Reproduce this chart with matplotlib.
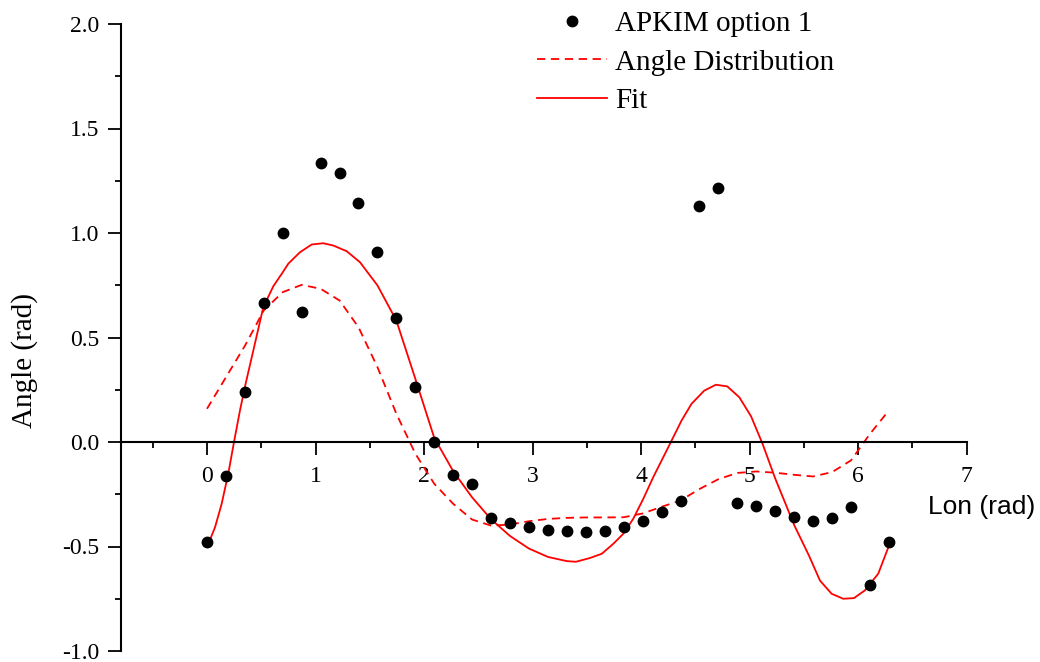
import matplotlib
matplotlib.use("Agg")
import matplotlib.pyplot as plt
from matplotlib.ticker import MultipleLocator, FormatStrFormatter
from matplotlib.lines import Line2D

plt.rcParams['axes.unicode_minus'] = False
plt.rcParams['font.family'] = ['Liberation Serif', 'DejaVu Serif']

# Longitude samples (rad)
lon = [0.000, 0.175, 0.349, 0.524, 0.698, 0.873, 1.047, 1.222, 1.396, 1.571,
       1.745, 1.920, 2.094, 2.269, 2.443, 2.618, 2.793, 2.967, 3.142, 3.316,
       3.491, 3.665, 3.840, 4.014, 4.189, 4.363, 4.538, 4.712, 4.887, 5.061,
       5.236, 5.411, 5.585, 5.760, 5.934, 6.109, 6.283]

# APKIM option 1 (points)
apkim = [-0.479, -0.165, 0.241, 0.666, 1.002, 0.621, 1.334, 1.286, 1.144, 0.910,
         0.594, 0.261, 0.000, -0.156, -0.200, -0.363, -0.388, -0.409, -0.422, -0.428,
         -0.430, -0.425, -0.409, -0.377, -0.334, -0.280, 1.127, 1.216, -0.293, -0.307,
         -0.332, -0.361, -0.379, -0.366, -0.310, -0.685, -0.478]

# Angle Distribution (dashed)
angle_dist = [0.159, 0.310, 0.460, 0.630, 0.717, 0.752, 0.733, 0.677, 0.549, 0.358,
              0.135, -0.056, -0.200, -0.296, -0.371, -0.400, -0.395, -0.379, -0.368, -0.363,
              -0.361, -0.361, -0.360, -0.342, -0.310, -0.280, -0.225, -0.178, -0.148, -0.141,
              -0.147, -0.157, -0.165, -0.144, -0.088, 0.039, 0.151]

# Fit (solid) -- its own sample positions
fit_lon = [0.000, 0.074, 0.135, 0.196, 0.249, 0.304, 0.356, 0.427, 0.519, 0.611,
           0.698, 0.749, 0.857, 0.965, 1.072, 1.164, 1.287, 1.410, 1.571, 1.745,
           1.920, 2.094, 2.269, 2.443, 2.618, 2.793, 2.967, 3.142, 3.316, 3.400,
           3.529, 3.637, 3.744, 3.836, 3.928, 4.020, 4.112, 4.204, 4.281, 4.373,
           4.465, 4.582, 4.689, 4.794, 4.905, 5.013, 5.120, 5.236, 5.411, 5.548,
           5.648, 5.755, 5.862, 5.961, 6.062, 6.185, 6.283]
fit = [-0.503, -0.408, -0.296, -0.152, 0.000, 0.151, 0.279, 0.438, 0.645, 0.745,
       0.812, 0.853, 0.908, 0.945, 0.951, 0.940, 0.913, 0.860, 0.749, 0.581,
       0.302, 0.020, -0.140, -0.265, -0.370, -0.450, -0.510, -0.550, -0.570, -0.573,
       -0.555, -0.535, -0.487, -0.439, -0.367, -0.272, -0.168, -0.073, 0.007, 0.103,
       0.183, 0.246, 0.274, 0.266, 0.214, 0.123, -0.010, -0.175, -0.398, -0.545,
       -0.663, -0.726, -0.750, -0.747, -0.710, -0.630, -0.497]

labels = ['APKIM option 1', 'Angle Distribution', 'Fit']

W, H = 1040, 662
fig = plt.figure(figsize=(W / 100, H / 100), dpi=100)
ax = fig.add_axes([120.7 / W, 1 - 651 / H, (966.7 - 120.7) / W, (651 - 24) / H])

red = '#ff0000'
dash = (0, (4.6, 3.1))
ax.plot(lon, angle_dist, color=red, lw=1.3, linestyle=dash, zorder=2)
ax.plot(fit_lon, fit, color=red, lw=1.3, zorder=2)
ax.plot(lon, apkim, linestyle='none', marker='o', ms=7.5, color='black', zorder=3)

ax.set_xlim(-0.795, 7)
ax.set_ylim(-1.0, 2.0)

for s in ('top', 'right'):
    ax.spines[s].set_visible(False)
ax.spines['bottom'].set_position(('data', 0))
ax.spines['bottom'].set_linewidth(1.5)
ax.spines['left'].set_linewidth(1.5)

ax.xaxis.set_major_locator(MultipleLocator(1))
ax.xaxis.set_minor_locator(MultipleLocator(0.5))
ax.yaxis.set_major_locator(MultipleLocator(0.5))
ax.yaxis.set_minor_locator(MultipleLocator(0.25))
ax.yaxis.set_major_formatter(FormatStrFormatter('%.1f'))
ax.xaxis.set_major_formatter(FormatStrFormatter('%d'))

ax.tick_params(axis='both', which='major', direction='out', length=9.4, width=1.3,
               labelsize=17)
ax.tick_params(axis='both', which='minor', direction='out', length=4.5, width=1.3)
ax.tick_params(axis='x', which='major', pad=8)
ax.tick_params(axis='y', which='major', pad=6)

fig.text(25 / W, 1 - 360 / H, 'Angle (rad)', rotation=90, ha='center', va='center',
         fontsize=21, family='Liberation Serif')
fig.text(982 / W, 1 - 507 / H, 'Lon (rad)', ha='center', va='center',
         fontsize=19, family='Liberation Sans')

handles = [
    Line2D([], [], linestyle='none', marker='o', ms=7.5, color='black'),
    Line2D([], [], color=red, lw=1.3, linestyle=dash),
    Line2D([], [], color=red, lw=1.3),
]
ax.legend(handles, labels, loc='upper left', bbox_to_anchor=(537 / W, 1 - 10.5 / H),
          bbox_transform=fig.transFigure, frameon=False,
          prop={'family': 'Liberation Serif', 'size': 21},
          handlelength=2.4, handletextpad=0.28, labelspacing=0.42,
          borderpad=0, borderaxespad=0)

fig.savefig('out.png', dpi=100)
